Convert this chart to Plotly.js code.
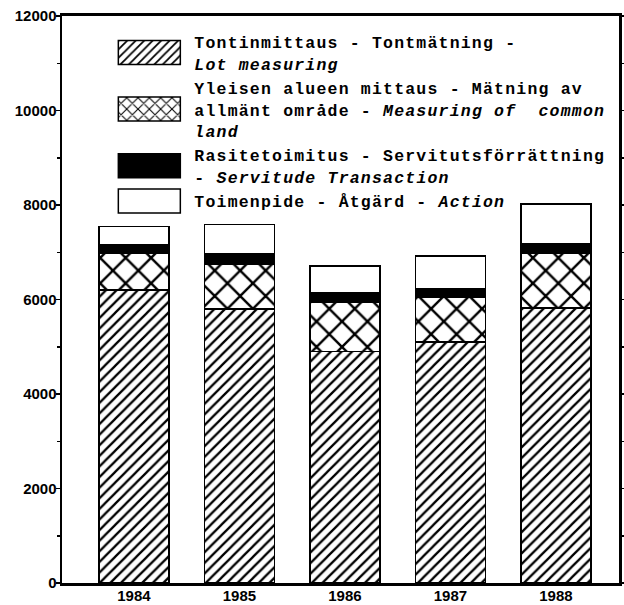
<!DOCTYPE html>
<html><head><meta charset="utf-8">
<script src="https://cdn.plot.ly/plotly-3.0.1.min.js"></script>
<style>
html,body{margin:0;padding:0;background:#fff;}
#chart{width:624px;height:605px;}
.legendtext{letter-spacing:1.2px;}
</style></head>
<body><div id="chart"></div>
<script>
const years = ['1984','1985','1986','1987','1988'];
const lotMeasuring = [6200, 5800, 4900, 5100, 5820];
const commonLand = [780, 940, 1050, 940, 1160];
const servitude = [170, 230, 190, 190, 210];
const action = [400, 620, 570, 690, 830];
const seriesNames = [
  'Tontinmittaus - Tontmätning -<br><i>Lot measuring</i>',
  'Yleisen alueen mittaus - Mätning av<br>allmänt område - <i>Measuring of  common</i><br><i>land</i>',
  'Rasitetoimitus - Servitutsförrättning<br>- <i>Servitude Transaction</i>',
  'Toimenpide - Åtgärd - <i>Action</i>'
];
const yTickVals = [0, 2000, 4000, 6000, 8000, 10000, 12000];

const outline = {color: '#000', width: 1.5};
const traces = [
  {type: 'bar', x: years, y: lotMeasuring, name: seriesNames[0],
   marker: {color: '#fff', line: outline,
     pattern: {shape: '/', size: 7.5, solidity: 0.3, fgcolor: '#000', bgcolor: '#fff'}}},
  {type: 'bar', x: years, y: commonLand, name: seriesNames[1],
   marker: {color: '#fff', line: outline,
     pattern: {shape: 'x', size: 18, solidity: 0.25, fgcolor: '#000', bgcolor: '#fff'}}},
  {type: 'bar', x: years, y: servitude, name: seriesNames[2],
   marker: {color: '#000', line: outline}},
  {type: 'bar', x: years, y: action, name: seriesNames[3],
   marker: {color: '#fff', line: outline}}
];

const tickFont = {family: 'Liberation Sans Narrow, Liberation Sans, Arial', size: 15, color: '#000', weight: 'bold'};

const layout = {
  width: 624, height: 605,
  margin: {l: 62, r: 5, t: 16, b: 22},
  paper_bgcolor: '#fff', plot_bgcolor: '#fff',
  barmode: 'stack', bargap: 0.335,
  showlegend: true,
  legend: {
    x: 0.076, y: 0.985, xanchor: 'left', yanchor: 'top',
    bgcolor: 'rgba(0,0,0,0)', borderwidth: 0,
    traceorder: 'normal', itemwidth: 80, valign: 'middle',
    itemclick: false, itemdoubleclick: false,
    font: {family: 'Liberation Mono, DejaVu Sans Mono, monospace', size: 16.5, color: '#000', weight: 'bold'}
  },
  xaxis: {
    type: 'category', range: [-0.682, 4.598],
    showline: true, linewidth: 3, linecolor: '#000', mirror: true,
    ticks: '', showgrid: false, zeroline: false,
    ticklabelstandoff: -3,
    tickfont: tickFont, fixedrange: true
  },
  yaxis: {
    range: [0, 12000], tickvals: yTickVals, ticktext: yTickVals.map(String),
    ticks: 'outside', ticklen: 4, tickwidth: 1.5, tickcolor: '#000',
    minor: {dtick: 1000, ticks: 'outside', ticklen: 3, tickwidth: 1.5, tickcolor: '#000'},
    showline: true, linewidth: 2.5, linecolor: '#000', mirror: 'ticks',
    showgrid: false, zeroline: false,
    ticklabelstandoff: -4,
    tickfont: tickFont, fixedrange: true
  }
};

Plotly.newPlot('chart', traces, layout, {staticPlot: true, displayModeBar: false}).then(gd => {
  gd.querySelectorAll('.legend .traces .legendpoints path').forEach(p => {
    p.setAttribute('d', 'M31,12H-31V-12H31Z');
  });
});
</script>
</body></html>
